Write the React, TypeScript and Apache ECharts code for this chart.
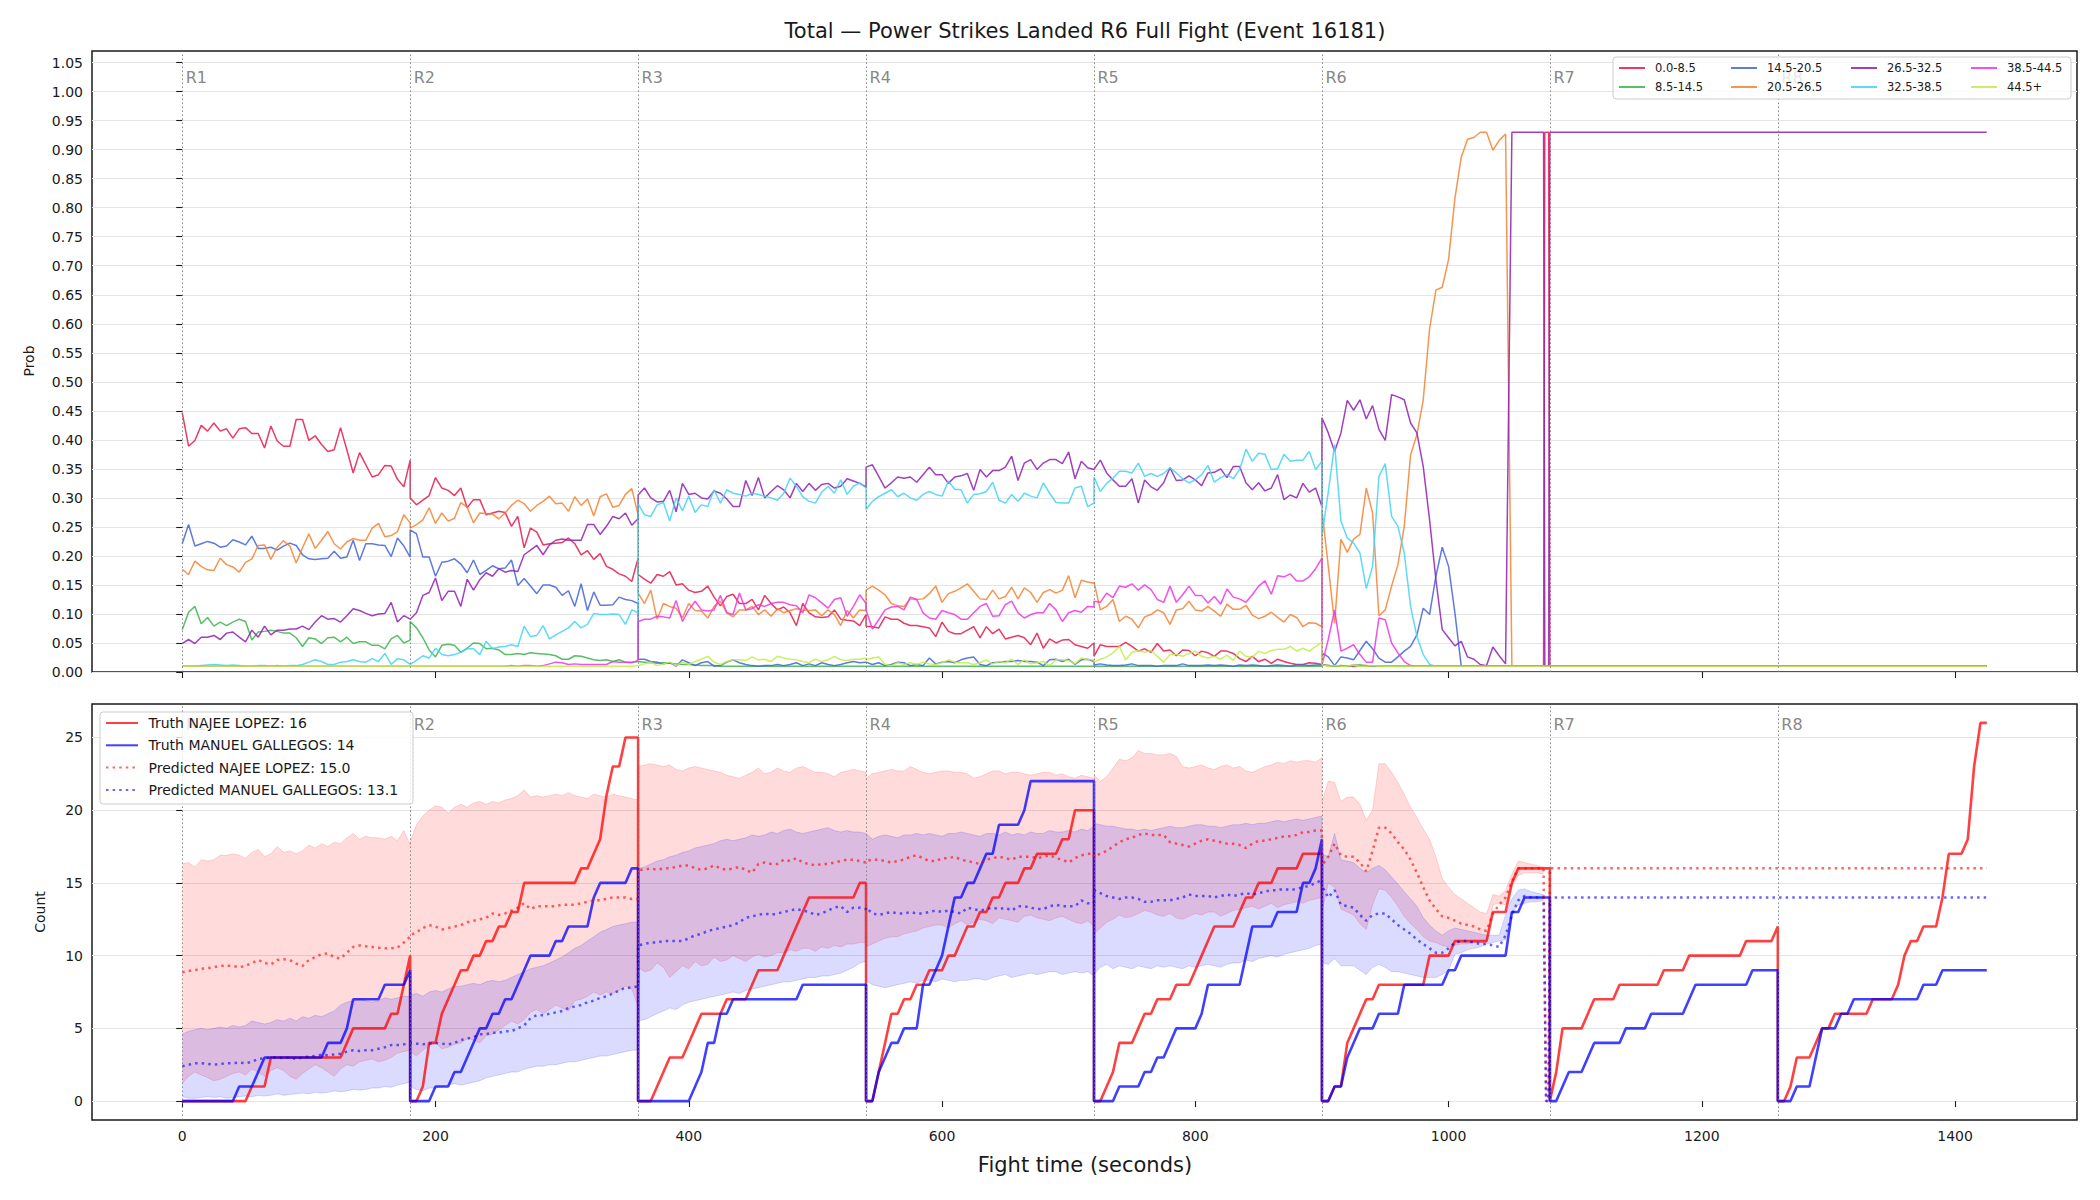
import React, { useEffect, useRef } from "react";
import * as echarts from "echarts";

// ---------- axes / rounds ----------
const roundStarts = [0, 180, 360, 540, 720, 900, 1080, 1260];
const roundLabels = ["R1", "R2", "R3", "R4", "R5", "R6", "R7", "R8"];
const timeTicks = [0, 200, 400, 600, 800, 1000, 1200, 1400];
const probTicks = [0, 0.05, 0.1, 0.15, 0.2, 0.25, 0.3, 0.35, 0.4, 0.45, 0.5, 0.55, 0.6, 0.65, 0.7, 0.75, 0.8, 0.85, 0.9, 0.95, 1.0, 1.05];
const countTicks = [0, 5, 10, 15, 20, 25];
const SAMPLE_STEP = 5;

// ---------- top panel: probability per bin ----------
const binNames = ["0.0-8.5", "8.5-14.5", "14.5-20.5", "20.5-26.5", "26.5-32.5", "32.5-38.5", "38.5-44.5", "44.5+"];
const binColors = ["#e6194b", "#3cb44b", "#4363d8", "#f58231", "#911eb4", "#42d4f4", "#f032e6", "#bfef45"];
const probRoundLengths = [37, 37, 37, 37, 37, 30];

const probBin0 = [
  0.447,0.389,0.399,0.425,0.415,0.429,0.415,0.419,0.403,0.419,0.421,0.411,0.411,0.386,0.424,0.398,0.389,0.389,0.435,0.435,0.399,0.407,0.392,0.380,0.383,0.421,0.383,0.343,0.378,0.357,0.336,0.340,0.356,0.355,0.332,0.319,0.365,
  0.300,0.288,0.296,0.304,0.335,0.317,0.313,0.304,0.317,0.283,0.297,0.297,0.271,0.274,0.277,0.275,0.251,0.268,0.214,0.248,0.241,0.219,0.221,0.222,0.223,0.231,0.221,0.202,0.209,0.194,0.204,0.182,0.177,0.169,0.165,0.156,0.196,
  0.168,0.160,0.153,0.168,0.165,0.173,0.150,0.152,0.141,0.137,0.139,0.148,0.129,0.114,0.130,0.134,0.118,0.118,0.125,0.107,0.132,0.118,0.107,0.112,0.102,0.080,0.118,0.102,0.095,0.094,0.095,0.107,0.091,0.089,0.088,0.080,0.099,
  0.079,0.078,0.076,0.095,0.091,0.091,0.084,0.080,0.080,0.078,0.076,0.061,0.086,0.070,0.066,0.066,0.072,0.078,0.059,0.078,0.066,0.074,0.057,0.060,0.063,0.059,0.047,0.067,0.041,0.057,0.050,0.055,0.056,0.047,0.044,0.041,0.050,
  0.027,0.047,0.044,0.044,0.044,0.051,0.044,0.036,0.040,0.034,0.049,0.036,0.038,0.028,0.038,0.037,0.028,0.036,0.033,0.027,0.036,0.036,0.032,0.023,0.018,0.027,0.018,0.022,0.015,0.022,0.018,0.015,0.013,0.013,0.016,0.015,0.013,
  0.012,0.011,0.010,0.011,0.010,0.010,0.011,0.010,0.010,0.010,0.010,0.010,0.010,0.010,0.010,0.010,0.010,0.010,0.010,0.010,0.010,0.010,0.010,0.010,0.010,0.010,0.010,0.010,0.010,0.010,
];
const probBin1 = [
  0.073,0.103,0.113,0.083,0.094,0.079,0.086,0.080,0.086,0.091,0.087,0.055,0.069,0.070,0.072,0.070,0.067,0.067,0.059,0.044,0.059,0.057,0.049,0.059,0.060,0.052,0.060,0.049,0.052,0.052,0.046,0.046,0.040,0.057,0.063,0.050,0.055,
  0.087,0.076,0.059,0.038,0.026,0.046,0.048,0.046,0.034,0.041,0.050,0.049,0.040,0.041,0.038,0.030,0.030,0.032,0.030,0.033,0.032,0.031,0.030,0.028,0.022,0.022,0.028,0.027,0.024,0.021,0.020,0.021,0.018,0.021,0.017,0.017,0.018,
  0.018,0.017,0.016,0.015,0.016,0.015,0.014,0.013,0.013,0.012,0.011,0.011,0.011,0.01,0.01,0.01,0.01,0.01,0.01,0.01,0.01,0.01,0.01,0.01,0.01,0.01,0.01,0.01,0.01,0.01,0.01,0.01,0.01,0.01,0.01,0.01,0.01,
  0.01,0.01,0.01,0.01,0.01,0.01,0.01,0.01,0.01,0.01,0.01,0.01,0.01,0.01,0.01,0.01,0.01,0.01,0.01,0.01,0.01,0.01,0.01,0.01,0.01,0.01,0.01,0.01,0.01,0.01,0.01,0.01,0.01,0.01,0.01,0.01,0.01,
  0.01,0.01,0.01,0.01,0.01,0.01,0.01,0.01,0.01,0.01,0.01,0.01,0.01,0.01,0.01,0.01,0.01,0.01,0.01,0.01,0.01,0.01,0.01,0.01,0.01,0.01,0.01,0.01,0.01,0.01,0.01,0.01,0.01,0.01,0.01,0.01,0.01,
  0.012,0.011,0.01,0.01,0.01,0.012,0.012,0.011,0.01,0.01,0.01,0.01,0.01,0.01,0.01,0.01,0.01,0.01,0.01,0.01,0.01,0.01,0.01,0.01,0.01,0.01,0.01,0.01,0.01,0.01,
];
const probBin2 = [
  0.221,0.254,0.217,0.221,0.225,0.222,0.215,0.217,0.228,0.224,0.219,0.234,0.213,0.213,0.215,0.210,0.217,0.222,0.218,0.202,0.195,0.194,0.195,0.196,0.208,0.196,0.198,0.227,0.192,0.221,0.221,0.219,0.218,0.199,0.231,0.217,0.198,
  0.245,0.238,0.198,0.198,0.165,0.189,0.191,0.195,0.186,0.171,0.193,0.168,0.175,0.183,0.178,0.179,0.193,0.149,0.161,0.148,0.135,0.150,0.150,0.146,0.132,0.140,0.113,0.152,0.106,0.138,0.115,0.115,0.116,0.129,0.125,0.123,0.118,
  0.022,0.022,0.018,0.017,0.014,0.016,0.010,0.021,0.016,0.011,0.016,0.018,0.010,0.011,0.017,0.021,0.016,0.013,0.011,0.010,0.011,0.011,0.013,0.011,0.013,0.016,0.011,0.014,0.011,0.016,0.013,0.011,0.013,0.016,0.018,0.016,0.017,
  0.017,0.013,0.016,0.011,0.013,0.017,0.016,0.011,0.013,0.011,0.024,0.014,0.017,0.018,0.016,0.021,0.024,0.026,0.013,0.011,0.016,0.017,0.018,0.018,0.020,0.018,0.018,0.017,0.011,0.021,0.022,0.018,0.022,0.013,0.021,0.022,0.018,
  0.012,0.014,0.012,0.011,0.011,0.012,0.014,0.011,0.011,0.011,0.010,0.011,0.011,0.011,0.014,0.011,0.011,0.011,0.012,0.011,0.012,0.011,0.010,0.012,0.011,0.012,0.011,0.010,0.011,0.012,0.011,0.010,0.012,0.012,0.011,0.012,0.012,
  0.033,0.026,0.011,0.026,0.024,0.021,0.037,0.053,0.040,0.024,0.017,0.017,0.026,0.036,0.044,0.064,0.110,0.099,0.165,0.215,0.182,0.102,0.010,0.010,0.010,0.010,0.010,0.010,0.010,0.010,
];
const probBin3 = [
  0.177,0.168,0.191,0.182,0.176,0.175,0.196,0.185,0.181,0.172,0.189,0.195,0.218,0.219,0.194,0.215,0.226,0.217,0.188,0.214,0.238,0.213,0.227,0.242,0.221,0.212,0.224,0.230,0.227,0.227,0.248,0.256,0.233,0.235,0.242,0.271,0.257,
  0.248,0.254,0.262,0.283,0.256,0.274,0.260,0.265,0.292,0.284,0.257,0.274,0.273,0.272,0.264,0.274,0.287,0.296,0.290,0.277,0.287,0.294,0.303,0.290,0.291,0.277,0.302,0.287,0.298,0.269,0.302,0.307,0.284,0.287,0.306,0.316,0.271,
  0.136,0.118,0.141,0.091,0.118,0.113,0.110,0.093,0.118,0.106,0.105,0.093,0.113,0.122,0.102,0.095,0.107,0.107,0.113,0.099,0.107,0.096,0.109,0.102,0.106,0.109,0.107,0.106,0.107,0.097,0.107,0.099,0.080,0.106,0.093,0.107,0.106,
  0.141,0.148,0.141,0.133,0.118,0.114,0.113,0.126,0.125,0.126,0.135,0.148,0.120,0.135,0.139,0.145,0.152,0.139,0.126,0.125,0.141,0.126,0.130,0.146,0.126,0.145,0.137,0.120,0.137,0.142,0.136,0.141,0.166,0.128,0.158,0.155,0.153,
  0.155,0.107,0.113,0.125,0.087,0.096,0.091,0.076,0.095,0.099,0.107,0.102,0.082,0.107,0.109,0.122,0.107,0.105,0.113,0.105,0.096,0.117,0.108,0.108,0.115,0.098,0.092,0.096,0.103,0.094,0.086,0.099,0.094,0.078,0.085,0.084,0.078,
  0.280,0.182,0.084,0.229,0.206,0.229,0.237,0.317,0.274,0.097,0.107,0.148,0.185,0.251,0.374,0.409,0.469,0.591,0.658,0.663,0.711,0.816,0.887,0.918,0.921,0.930,0.930,0.899,0.916,0.927,
];
const probBin4 = [
  0.049,0.056,0.049,0.060,0.060,0.063,0.056,0.067,0.069,0.060,0.052,0.072,0.060,0.079,0.064,0.072,0.072,0.074,0.074,0.079,0.073,0.086,0.097,0.091,0.092,0.086,0.097,0.109,0.106,0.101,0.097,0.100,0.101,0.120,0.086,0.097,0.091,
  0.091,0.102,0.132,0.137,0.162,0.123,0.139,0.139,0.113,0.160,0.141,0.159,0.171,0.165,0.178,0.172,0.175,0.173,0.202,0.210,0.218,0.202,0.219,0.227,0.229,0.227,0.227,0.227,0.254,0.254,0.237,0.251,0.268,0.264,0.274,0.253,0.264,
  0.305,0.317,0.300,0.293,0.294,0.313,0.276,0.325,0.306,0.308,0.300,0.298,0.312,0.308,0.298,0.285,0.285,0.330,0.304,0.335,0.300,0.311,0.321,0.314,0.300,0.325,0.311,0.325,0.313,0.323,0.325,0.317,0.320,0.333,0.329,0.325,0.319,
  0.353,0.357,0.337,0.317,0.326,0.336,0.334,0.336,0.327,0.340,0.353,0.340,0.340,0.325,0.336,0.338,0.342,0.313,0.349,0.336,0.347,0.347,0.353,0.372,0.330,0.360,0.366,0.349,0.360,0.366,0.366,0.359,0.379,0.333,0.363,0.352,0.349,
  0.349,0.365,0.343,0.331,0.320,0.320,0.333,0.291,0.331,0.319,0.313,0.326,0.352,0.330,0.331,0.338,0.331,0.321,0.343,0.344,0.350,0.335,0.354,0.354,0.326,0.314,0.326,0.312,0.317,0.340,0.297,0.305,0.300,0.325,0.310,0.317,0.285,
  0.438,0.412,0.380,0.412,0.468,0.451,0.469,0.436,0.459,0.418,0.399,0.478,0.474,0.469,0.429,0.412,0.354,0.262,0.159,0.073,0.059,0.045,0.053,0.026,0.022,0.013,0.011,0.043,0.028,0.014,
];
const probBin5 = [
  0.010,0.010,0.010,0.011,0.012,0.013,0.012,0.011,0.012,0.011,0.010,0.010,0.011,0.011,0.010,0.011,0.010,0.011,0.011,0.013,0.017,0.021,0.018,0.013,0.013,0.017,0.018,0.021,0.018,0.017,0.023,0.018,0.032,0.013,0.023,0.021,0.013,
  0.013,0.020,0.028,0.024,0.041,0.030,0.028,0.030,0.034,0.040,0.040,0.030,0.053,0.040,0.043,0.044,0.047,0.044,0.079,0.061,0.063,0.080,0.057,0.064,0.070,0.076,0.087,0.076,0.082,0.101,0.099,0.099,0.100,0.099,0.082,0.107,0.102,
  0.290,0.271,0.268,0.288,0.292,0.260,0.300,0.278,0.303,0.275,0.288,0.285,0.314,0.291,0.314,0.308,0.306,0.303,0.308,0.306,0.303,0.300,0.296,0.308,0.334,0.320,0.302,0.294,0.291,0.310,0.320,0.308,0.331,0.306,0.320,0.326,0.317,
  0.280,0.294,0.302,0.308,0.314,0.302,0.308,0.300,0.296,0.306,0.311,0.306,0.303,0.329,0.315,0.314,0.291,0.306,0.307,0.311,0.327,0.296,0.291,0.306,0.294,0.308,0.303,0.300,0.326,0.308,0.292,0.291,0.291,0.317,0.320,0.285,0.291,
  0.336,0.311,0.325,0.334,0.346,0.346,0.343,0.360,0.337,0.342,0.337,0.342,0.352,0.343,0.333,0.326,0.331,0.340,0.356,0.327,0.335,0.340,0.333,0.349,0.384,0.363,0.377,0.375,0.349,0.350,0.375,0.363,0.365,0.365,0.380,0.349,0.363,
  0.234,0.310,0.392,0.260,0.231,0.222,0.205,0.144,0.182,0.337,0.359,0.268,0.251,0.205,0.113,0.061,0.030,0.013,0.01,0.01,0.01,0.01,0.01,0.01,0.01,0.01,0.01,0.01,0.01,0.01,
];
const probBin6 = [
  0.01,0.01,0.01,0.01,0.01,0.01,0.01,0.01,0.01,0.01,0.01,0.01,0.01,0.01,0.01,0.01,0.01,0.01,0.01,0.01,0.01,0.01,0.01,0.01,0.01,0.01,0.01,0.01,0.01,0.01,0.01,0.01,0.01,0.01,0.01,0.01,0.01,
  0.01,0.01,0.01,0.01,0.01,0.01,0.01,0.01,0.01,0.01,0.01,0.01,0.01,0.01,0.010,0.010,0.011,0.010,0.011,0.011,0.010,0.011,0.014,0.017,0.016,0.013,0.014,0.013,0.013,0.013,0.013,0.013,0.018,0.017,0.017,0.016,0.020,
  0.087,0.091,0.091,0.096,0.095,0.093,0.123,0.087,0.107,0.122,0.107,0.105,0.107,0.132,0.102,0.099,0.136,0.107,0.109,0.116,0.113,0.118,0.120,0.120,0.116,0.114,0.102,0.133,0.128,0.119,0.110,0.125,0.128,0.096,0.113,0.133,0.118,
  0.107,0.074,0.090,0.107,0.112,0.113,0.107,0.129,0.125,0.102,0.093,0.091,0.106,0.102,0.099,0.091,0.091,0.102,0.113,0.118,0.096,0.097,0.116,0.122,0.102,0.093,0.099,0.102,0.102,0.118,0.107,0.087,0.102,0.106,0.103,0.113,0.112,
  0.122,0.120,0.136,0.128,0.148,0.146,0.152,0.141,0.150,0.142,0.125,0.120,0.148,0.120,0.133,0.148,0.132,0.132,0.119,0.130,0.117,0.143,0.129,0.126,0.120,0.133,0.148,0.157,0.134,0.166,0.164,0.169,0.157,0.157,0.164,0.178,0.196,
  0.012,0.056,0.107,0.036,0.041,0.047,0.030,0.017,0.017,0.093,0.090,0.050,0.033,0.018,0.011,0.01,0.01,0.01,0.01,0.01,0.01,0.01,0.01,0.01,0.01,0.01,0.01,0.01,0.01,0.01,
];
const probBin7 = [
  0.01,0.01,0.01,0.01,0.01,0.01,0.01,0.01,0.01,0.01,0.01,0.01,0.01,0.01,0.01,0.01,0.01,0.01,0.01,0.01,0.01,0.01,0.01,0.01,0.01,0.01,0.01,0.01,0.01,0.01,0.01,0.01,0.01,0.01,0.01,0.01,0.01,
  0.01,0.01,0.01,0.01,0.01,0.01,0.01,0.01,0.01,0.01,0.01,0.01,0.01,0.01,0.01,0.01,0.01,0.01,0.01,0.01,0.01,0.01,0.01,0.01,0.01,0.01,0.01,0.01,0.01,0.01,0.01,0.01,0.01,0.01,0.01,0.01,0.011,
  0.011,0.014,0.017,0.011,0.014,0.017,0.011,0.017,0.013,0.018,0.022,0.027,0.017,0.013,0.018,0.021,0.021,0.020,0.026,0.021,0.022,0.018,0.027,0.024,0.022,0.021,0.018,0.016,0.022,0.018,0.021,0.027,0.021,0.020,0.022,0.022,0.024,
  0.021,0.024,0.026,0.013,0.011,0.016,0.013,0.016,0.013,0.017,0.014,0.013,0.016,0.021,0.017,0.016,0.016,0.013,0.016,0.021,0.014,0.018,0.016,0.022,0.013,0.021,0.014,0.016,0.018,0.011,0.021,0.021,0.020,0.014,0.024,0.021,0.021,
  0.017,0.022,0.026,0.033,0.044,0.021,0.034,0.037,0.034,0.037,0.027,0.017,0.030,0.030,0.027,0.032,0.036,0.027,0.024,0.027,0.022,0.029,0.020,0.036,0.027,0.025,0.036,0.032,0.037,0.039,0.039,0.044,0.036,0.041,0.036,0.044,0.051,
  0.012,0.01,0.011,0.01,0.01,0.012,0.01,0.01,0.011,0.01,0.01,0.01,0.01,0.01,0.01,0.01,0.01,0.01,0.01,0.01,0.01,0.01,0.01,0.01,0.01,0.01,0.01,0.01,0.01,0.01,
];
const probBins = [probBin0, probBin1, probBin2, probBin3, probBin4, probBin5, probBin6, probBin7];

// after the fight ends the model output is frozen
const probTailTimes = [1050, 1075, 1076, 1079, 1080, 1425];
const probTailBin0 = [0.01, 0.01, 0.93, 0.93, 0.01, 0.01];
const probTailBin4 = [0.93, 0.93, 0.01, 0.01, 0.93, 0.93];
const probTailOther = [0.01, 0.01, 0.01, 0.01, 0.01, 0.01];

// ---------- bottom panel: counts ----------
const bottomNames = [
  "Truth NAJEE LOPEZ: 16",
  "Truth MANUEL GALLEGOS: 14",
  "Predicted NAJEE LOPEZ: 15.0",
  "Predicted MANUEL GALLEGOS: 13.1",
];
const truthRoundLengths = [37, 37, 37, 37, 37, 37, 37, 34];
const truthLopez = [
  0,0,0,0,0,0,0,0,0,0,0,1,1,1,3,3,3,3,3,3,3,3,3,3,3,3,4,5,5,5,5,5,5,6,6,8,10,
  0,0,1,4,4,6,7,8,9,9,10,10,11,11,12,12,13,13,15,15,15,15,15,15,15,15,15,16,16,17,18,21,23,23,25,25,25,
  0,0,0,1,2,3,3,3,4,5,6,6,6,6,7,7,7,7,8,9,9,9,9,10,11,12,13,14,14,14,14,14,14,14,14,15,15,
  0,0,2,4,6,6,7,7,8,8,9,9,9,10,10,11,12,12,13,13,14,14,15,15,15,16,16,17,17,17,17,18,18,20,20,20,20,
  0,0,1,2,4,4,4,5,6,6,7,7,7,8,8,8,9,10,11,12,12,12,12,13,14,14,15,15,15,16,16,16,16,17,17,17,17,
  0,0,1,1,4,5,6,7,7,8,8,8,8,8,8,8,8,10,10,10,10,11,11,11,11,11,11,13,13,13,15,16,16,16,16,16,16,
  0,2,5,5,5,5,6,7,7,7,7,8,8,8,8,8,8,8,9,9,9,9,10,10,10,10,10,10,10,10,10,11,11,11,11,11,12,
  0,0,1,3,3,3,4,5,5,6,6,6,6,6,6,7,7,7,7,8,10,11,11,12,12,12,14,17,17,17,18,23,26,26,
];
const truthGallegos = [
  0,0,0,0,0,0,0,0,0,1,1,1,2,3,3,3,3,3,3,3,3,3,3,4,4,4,5,7,7,7,7,7,8,8,8,8,9,
  0,0,0,0,1,1,1,2,2,3,4,5,5,6,6,7,7,8,9,10,10,10,10,11,11,12,12,12,12,14,15,15,15,15,15,16,16,
  0,0,0,0,0,0,0,0,0,1,2,4,4,6,6,7,7,7,7,7,7,7,7,7,7,7,8,8,8,8,8,8,8,8,8,8,8,
  0,0,2,3,4,4,5,5,5,8,8,9,10,12,14,14,15,15,16,17,17,19,19,19,19,20,22,22,22,22,22,22,22,22,22,22,22,
  0,0,0,0,1,1,1,1,2,2,3,3,4,5,5,5,5,6,8,8,8,8,8,8,10,12,12,12,12,13,13,13,13,15,15,16,18,
  0,0,1,1,3,4,5,5,5,6,6,6,6,8,8,8,8,8,8,8,9,9,10,10,10,10,10,10,10,10,13,13,14,14,14,14,14,
  0,0,1,2,2,2,3,4,4,4,4,4,5,5,5,5,6,6,6,6,6,6,7,8,8,8,8,8,8,8,8,8,9,9,9,9,9,
  0,0,0,1,1,1,3,5,5,5,6,6,7,7,7,7,7,7,7,7,7,7,7,8,8,8,9,9,9,9,9,9,9,9,
];

const predRoundLengths = [37, 37, 37, 37, 37, 36];
const predLopez = [
  8.85,8.95,9.0,9.1,9.15,9.2,9.3,9.3,9.3,9.2,9.3,9.5,9.7,9.5,9.4,9.7,9.75,9.7,9.45,9.3,9.7,9.9,10.1,10.15,9.9,9.8,10.2,10.6,10.7,10.65,10.6,10.55,10.5,10.5,10.55,10.9,11.3,
  11.4,11.6,11.9,12.1,12.0,11.8,11.9,12.0,12.1,12.3,12.4,12.5,12.6,12.9,12.8,12.9,13.1,13.3,13.6,13.2,13.4,13.4,13.4,13.4,13.5,13.5,13.5,13.6,13.7,13.8,13.8,13.9,14.0,14.0,14.0,13.9,13.9,
  15.9,15.9,16.0,15.9,16.0,16.0,16.1,16.2,16.2,16.0,15.9,16.0,16.2,16.0,15.9,16.0,16.1,15.9,15.7,16.3,16.4,16.3,16.3,16.6,16.5,16.7,16.4,16.3,16.2,16.3,16.3,16.4,16.5,16.6,16.6,16.5,16.4,
  16.5,16.6,16.6,16.5,16.4,16.5,16.6,16.8,16.9,16.7,16.5,16.5,16.7,16.7,16.8,16.6,16.5,16.4,16.3,16.6,16.7,16.8,16.7,16.6,16.8,16.8,16.8,16.7,16.8,16.9,16.7,16.6,16.4,16.7,16.9,17.0,17.0,
  16.8,17.0,17.2,17.5,17.8,18.0,18.1,18.3,18.4,18.3,18.3,18.3,17.8,17.7,17.6,17.5,17.7,17.9,18.0,17.9,17.8,17.7,17.7,17.6,17.4,17.7,17.9,17.9,18.0,18.1,18.2,18.2,18.3,18.5,18.5,18.6,18.6,
  16.2,16.8,17.7,16.9,16.8,16.8,16.4,15.8,17.2,18.8,18.8,18.4,17.8,17.3,16.6,15.7,14.7,13.8,13.2,12.7,12.6,12.4,12.2,12.1,12.0,11.8,11.7,12.9,13.5,14.0,15.1,16.0,16.0,16.0,16.0,16.0,
];
const predGallegos = [
  2.4,2.5,2.6,2.6,2.55,2.5,2.55,2.6,2.6,2.65,2.6,2.7,2.9,2.95,3.0,3.0,2.95,3.0,2.9,3.0,3.05,3.1,3.2,3.15,3.2,3.25,3.4,3.5,3.45,3.5,3.5,3.6,3.7,3.85,3.85,3.9,4.0,
  4.0,3.95,3.9,3.95,4.0,3.95,3.9,4.0,4.2,4.3,4.4,4.6,4.6,4.7,4.7,4.8,4.8,5.0,5.2,5.7,5.9,5.9,6.0,6.1,6.2,6.4,6.5,6.6,6.8,6.9,7.1,7.2,7.4,7.6,7.8,7.8,7.9,
  10.7,10.8,10.9,10.9,11.0,11.0,11.0,11.0,11.2,11.4,11.5,11.7,11.8,11.9,12.0,12.1,12.3,12.6,12.7,12.8,12.9,12.8,12.9,13.0,13.1,13.2,13.1,13.0,12.8,12.9,13.1,13.3,13.4,13.0,13.3,13.3,13.2,
  13.3,12.9,12.8,12.9,13.0,12.9,12.9,13.0,12.9,12.9,13.0,13.1,13.0,13.1,13.0,12.9,13.3,13.2,13.1,13.2,13.3,13.2,13.3,13.1,13.4,13.4,13.3,13.2,13.2,13.4,13.5,13.4,13.4,13.4,13.8,13.6,13.6,
  14.5,14.3,14.1,14.0,13.9,14.0,14.0,13.9,13.7,13.7,13.8,13.8,13.8,13.9,14.0,14.2,14.1,14.1,14.1,14.0,14.1,14.2,14.1,14.2,14.3,14.2,14.3,14.4,14.5,14.5,14.6,14.5,14.6,14.7,14.8,15.0,15.2,
  14.8,14.0,14.5,13.5,13.4,13.3,12.8,12.4,12.8,12.9,12.9,12.5,12.1,11.8,11.5,11.1,10.8,10.5,10.2,10.2,10.5,10.9,11.0,11.0,10.9,10.8,10.8,10.7,10.6,11.4,12.8,13.8,14.1,14.0,14.0,14.0,
];
const predTailTimes = [1077, 1079, 1080, 1425];
const predLopezTail = [0, 0, 16.0, 16.0];
const predGallegosTail = [0, 0, 14.0, 14.0];

const lopezBandUpper = [
  16.3,16.4,16.1,16.6,16.5,16.6,16.9,16.9,17.0,16.9,16.7,17.1,17.3,16.8,17.0,17.5,17.1,17.2,17.0,17.2,17.6,17.4,17.7,17.5,17.8,17.7,18.1,18.4,18.0,18.2,18.1,18.1,18.0,18.2,17.9,18.6,17.6,
  17.8,19.0,19.6,20.0,20.3,20.2,19.8,20.2,20.4,20.2,20.5,20.6,20.4,20.6,20.5,20.7,20.8,21.0,21.4,20.9,21.0,20.9,21.0,21.1,21.0,21.2,21.0,20.9,20.8,21.1,21.0,20.9,21.1,21.0,20.9,20.8,20.7,
  23.0,23.1,23.2,23.1,23.0,23.1,22.8,22.7,22.9,23.0,22.9,22.8,22.7,22.6,22.4,22.3,22.2,22.4,22.6,22.9,22.5,22.6,22.9,22.7,22.6,22.9,23.0,22.8,22.6,22.6,22.5,22.3,22.6,22.7,22.8,22.7,22.6,
  22.2,22.5,22.6,22.7,22.8,22.7,22.7,23.0,22.8,22.6,22.5,22.6,22.7,22.7,22.6,22.6,22.5,22.2,22.3,22.5,22.7,22.7,22.5,22.6,22.6,22.5,22.4,22.5,22.6,22.6,22.4,22.5,22.3,22.2,22.4,22.3,22.2,
  22.4,22.0,22.3,22.9,23.5,23.4,23.6,24.1,23.9,23.9,23.8,23.8,23.9,23.7,23.0,22.9,23.0,23.1,22.9,22.8,23.0,23.1,22.9,23.0,22.7,22.6,22.8,23.0,23.1,23.3,23.2,23.4,23.3,23.4,23.4,23.3,23.6,
  20.5,22.0,21.9,20.6,20.9,20.9,20.4,19.3,20.0,23.2,23.2,22.6,21.9,21.1,20.2,19.5,18.7,18.0,16.8,15.3,14.7,14.2,13.9,13.6,13.3,13.0,12.9,14.2,14.1,14.5,15.6,16.5,16.4,16.3,16.2,16.1,
];
const lopezBandLower = [
  1.2,1.7,2.0,1.8,1.6,1.4,1.5,1.7,1.9,2.0,1.8,2.2,2.0,1.7,2.1,2.3,2.1,1.7,1.5,1.9,2.2,2.5,2.3,2.0,1.7,2.2,2.5,2.4,2.7,2.8,2.9,2.7,2.8,3.0,3.3,3.4,3.5,
  3.4,3.1,3.5,3.8,4.0,3.6,3.7,3.9,4.0,4.3,4.2,4.0,4.5,4.6,4.9,5.2,5.5,5.3,5.6,6.1,6.3,6.0,6.3,6.6,6.4,6.2,6.9,7.0,7.2,7.5,7.3,7.5,7.4,7.6,7.9,7.7,6.5,
  9.2,8.9,9.0,9.5,9.2,8.5,8.9,9.3,9.1,9.6,9.3,9.4,9.9,9.6,9.7,10.0,9.8,9.6,9.9,10.1,9.9,10.0,10.2,10.2,10.4,10.3,10.5,10.5,10.3,10.6,10.5,10.7,10.6,10.8,10.8,10.9,10.9,
  10.6,10.8,11.0,11.2,11.3,11.3,11.5,11.6,11.7,11.9,12.0,12.1,12.1,11.9,12.2,12.4,12.1,12.3,12.5,12.4,12.2,12.6,12.5,12.4,12.3,12.7,12.8,12.6,12.5,12.4,12.6,12.7,12.5,12.3,12.2,12.4,12.0,
  11.5,11.9,12.3,12.5,12.8,12.6,12.7,12.9,13.1,13.0,12.8,12.7,12.9,12.6,12.5,12.7,12.9,12.8,13.0,13.0,12.7,12.9,13.1,13.2,13.3,13.4,13.2,13.4,13.6,13.3,13.5,13.6,13.7,13.6,13.8,13.9,14.0,
  13.0,15.0,14.7,13.2,13.0,12.8,12.2,11.8,13.5,14.6,14.5,14.0,13.4,12.7,12.2,11.8,11.3,11.0,10.9,10.7,10.6,10.7,10.8,10.8,10.9,10.9,10.9,13.5,13.6,13.5,14.8,15.5,15.7,15.7,15.7,15.6,
];
const gallegosBandUpper = [
  4.6,4.8,4.9,5.0,4.9,5.0,5.1,5.0,5.2,5.1,5.2,5.5,5.4,5.3,5.4,5.6,5.5,5.7,5.5,5.8,5.7,5.9,5.8,6.0,6.2,6.6,6.8,6.9,7.0,6.9,6.8,6.9,7.1,7.0,7.1,7.2,7.2,
  7.3,7.4,7.2,7.5,7.6,7.5,7.7,7.9,7.9,8.0,8.1,8.0,8.2,8.3,8.2,8.3,8.5,8.7,8.9,9.1,9.2,9.3,9.5,9.7,9.9,10.2,10.5,10.7,11.0,11.3,11.6,11.8,12.0,12.1,12.2,12.3,12.3,
  16.0,16.1,16.3,16.5,16.6,16.8,16.9,17.1,17.2,17.4,17.5,17.6,17.7,17.9,18.0,17.9,18.0,18.1,18.3,18.2,18.3,18.5,18.4,18.6,18.7,18.5,18.4,18.5,18.6,18.7,18.8,18.6,18.5,18.6,18.5,18.5,18.4,
  18.4,18.0,18.2,18.3,18.2,18.1,18.3,18.3,18.4,18.3,18.4,18.3,18.2,18.4,18.4,18.5,18.4,18.3,18.2,18.4,18.4,18.3,18.5,18.3,18.4,18.3,18.5,18.4,18.4,18.6,18.5,18.5,18.6,18.5,18.7,18.6,18.9,
  19.1,19.0,18.9,18.9,18.8,18.7,18.7,18.6,18.7,18.6,18.7,18.8,18.9,18.8,18.8,18.9,19.0,19.0,18.9,18.9,18.8,18.9,19.0,19.0,19.1,19.0,19.1,19.1,19.2,19.3,19.2,19.3,19.4,19.3,19.4,19.5,19.6,
  17.0,16.8,18.4,16.6,16.5,16.4,16.0,15.7,16.0,16.2,15.9,15.4,14.9,14.4,13.9,13.4,12.6,12.1,11.7,11.4,11.7,11.9,11.8,11.7,11.6,11.5,11.4,11.4,11.4,12.8,13.9,14.5,14.6,14.4,14.3,14.2,
];
const gallegosBandLower = [
  0.3,0.2,0.2,0.25,0.3,0.25,0.3,0.2,0.25,0.3,0.35,0.3,0.4,0.35,0.4,0.5,0.4,0.45,0.5,0.55,0.5,0.6,0.55,0.6,0.7,0.65,0.7,0.8,0.75,0.8,0.9,0.9,1.0,0.95,1.1,1.2,1.3,
  1.0,0.8,0.7,0.9,0.9,1.0,1.1,1.2,1.1,1.2,1.3,1.4,1.6,1.7,1.8,1.9,2.0,2.0,2.2,2.3,2.4,2.4,2.5,2.5,2.6,2.7,2.7,2.8,2.9,3.0,3.1,3.1,3.2,3.3,3.4,3.5,3.5,
  5.5,5.6,5.8,6.0,6.2,6.4,6.3,6.6,6.8,6.9,7.0,7.1,7.2,7.3,7.4,7.5,7.4,7.6,7.7,7.8,7.9,8.0,8.1,8.2,8.2,8.3,8.4,8.5,8.5,8.6,8.6,8.7,8.8,9.0,9.2,9.5,9.6,
  8.3,8.0,7.9,7.8,7.9,8.0,8.1,8.2,8.1,8.3,8.3,8.2,8.4,8.3,8.2,8.3,8.3,8.4,8.4,8.3,8.5,8.6,8.7,8.5,8.6,8.7,8.8,8.7,8.8,8.9,8.9,8.7,8.8,8.9,8.8,8.9,8.6,
  8.7,9.2,9.4,9.1,9.3,9.2,9.1,9.3,9.2,9.1,9.3,9.2,9.3,9.2,9.1,9.3,9.2,9.3,9.4,9.3,9.2,9.4,9.5,9.5,9.7,9.6,9.8,9.9,10.0,9.9,10.1,10.2,10.3,10.4,10.5,10.7,10.8,
  9.5,9.4,9.8,9.3,9.3,9.3,9.0,8.7,9.2,9.4,9.2,8.9,8.9,8.8,8.7,8.6,8.5,8.5,8.5,8.7,9.0,10.1,10.2,10.4,10.5,10.6,10.8,10.9,11.0,11.1,12.9,13.5,13.6,13.7,13.7,13.8,
];

// ---------- helpers ----------
type Pt = [number, number];
function roundSeries(values: number[], lengths: number[]): Pt[] {
  const out: Pt[] = [];
  let k = 0;
  lengths.forEach((len, r) => {
    for (let i = 0; i < len && k < values.length; i++, k++) {
      out.push([roundStarts[r] + i * SAMPLE_STEP, values[k]]);
    }
  });
  return out;
}
function withTail(pts: Pt[], times: number[], vals: number[]): Pt[] {
  return pts.concat(times.map((t, i) => [t, vals[i]] as Pt));
}

const FONT = "DejaVu Sans";
const TXT = "#1a1a1a";

function bandSeries(lowVals: number[], upVals: number[], rgb: string): any {
  const low = roundSeries(lowVals, predRoundLengths);
  const up = roundSeries(upVals, predRoundLengths);
  return {
    type: "custom",
    xAxisIndex: 1,
    yAxisIndex: 1,
    silent: true,
    clip: true,
    z: 2,
    data: [low[0]],
    encode: { x: 0, y: 1 },
    renderItem: (_params: any, api: any) => {
      const upPx = up.map((p) => api.coord(p));
      const lowPx = low.map((p) => api.coord(p));
      const poly = upPx.concat(lowPx.slice().reverse());
      return {
        type: "group",
        children: [
          { type: "polygon", shape: { points: poly }, style: { fill: `rgba(${rgb},0.14)`, stroke: "none" } },
          { type: "polyline", shape: { points: upPx }, style: { fill: "none", stroke: `rgba(${rgb},0.15)`, lineWidth: 1 } },
          { type: "polyline", shape: { points: lowPx }, style: { fill: "none", stroke: `rgba(${rgb},0.15)`, lineWidth: 1 } },
        ],
      };
    },
  };
}

function buildOption(): any {
  const topTop = 51, topH = 621, botTop = 704, botH = 416, gLeft = 92, gW = 1985;
  const xMin = -71.25, xMax = 1496.25;
  const roundLine = {
    silent: true,
    symbol: ["none", "none"],
    label: { show: false },
    lineStyle: { color: "#777", width: 1, type: [1.5, 2.5], opacity: 0.85 },
    data: roundStarts.map((x) => ({ xAxis: x })),
  };
  const tickLine = { color: TXT, width: 1.1 };
  const labelStyle = { fontSize: 14, color: TXT, fontFamily: FONT, margin: 9 };
  const roundLabel = {
    show: true,
    position: "right",
    distance: 3,
    formatter: (p: any) => roundLabels[p.dataIndex],
    color: "#666",
    fontSize: 16,
    fontFamily: FONT,
  };

  const series: any[] = [];
  probBins.forEach((vals, b) => {
    const tail = b === 0 ? probTailBin0 : b === 4 ? probTailBin4 : probTailOther;
    series.push({
      name: binNames[b],
      type: "line",
      xAxisIndex: 0,
      yAxisIndex: 0,
      symbol: "none",
      silent: true,
      data: withTail(roundSeries(vals, probRoundLengths), probTailTimes, tail),
      lineStyle: { color: binColors[b], width: 1.5, opacity: 0.85 },
      itemStyle: { color: binColors[b] },
      z: 3,
    });
  });
  series.push({
    name: "roundsTop",
    type: "scatter",
    xAxisIndex: 0,
    yAxisIndex: 0,
    symbolSize: 1,
    silent: true,
    itemStyle: { color: "rgba(0,0,0,0)" },
    data: roundStarts.map((x) => [x, 1.024]),
    label: roundLabel,
    markLine: roundLine,
    z: 2,
  });

  series.push(bandSeries(lopezBandLower, lopezBandUpper, "255,0,0"));
  series.push(bandSeries(gallegosBandLower, gallegosBandUpper, "0,0,255"));

  series.push({
    name: bottomNames[0],
    type: "line",
    xAxisIndex: 1,
    yAxisIndex: 1,
    symbol: "none",
    silent: true,
    data: roundSeries(truthLopez, truthRoundLengths),
    lineStyle: { color: "#ff0000", width: 2.6, opacity: 0.75 },
    itemStyle: { color: "#ff0000" },
    z: 3,
  });
  series.push({
    name: bottomNames[1],
    type: "line",
    xAxisIndex: 1,
    yAxisIndex: 1,
    symbol: "none",
    silent: true,
    data: roundSeries(truthGallegos, truthRoundLengths),
    lineStyle: { color: "#0000ff", width: 2.6, opacity: 0.75 },
    itemStyle: { color: "#0000ff" },
    z: 3,
  });
  series.push({
    name: bottomNames[2],
    type: "line",
    xAxisIndex: 1,
    yAxisIndex: 1,
    symbol: "none",
    silent: true,
    data: withTail(roundSeries(predLopez, predRoundLengths), predTailTimes, predLopezTail),
    lineStyle: { color: "#ff0000", width: 2.5, opacity: 0.6, type: [2.5, 4.1] },
    itemStyle: { color: "#ff0000" },
    z: 3,
  });
  series.push({
    name: bottomNames[3],
    type: "line",
    xAxisIndex: 1,
    yAxisIndex: 1,
    symbol: "none",
    silent: true,
    data: withTail(roundSeries(predGallegos, predRoundLengths), predTailTimes, predGallegosTail),
    lineStyle: { color: "#0000ff", width: 2.5, opacity: 0.6, type: [2.5, 4.1] },
    itemStyle: { color: "#0000ff" },
    z: 3,
  });
  series.push({
    name: "roundsBottom",
    type: "scatter",
    xAxisIndex: 1,
    yAxisIndex: 1,
    symbolSize: 1,
    silent: true,
    itemStyle: { color: "rgba(0,0,0,0)" },
    data: roundStarts.map((x) => [x, 25.9]),
    label: roundLabel,
    markLine: roundLine,
    z: 2,
  });

  const legendCols = [1618, 1730, 1850, 1970];
  const legends: any[] = legendCols.map((left, c) => ({
    data: [binNames[c * 2], binNames[c * 2 + 1]],
    orient: "vertical",
    left,
    top: 62,
    padding: 0,
    itemWidth: 26,
    itemHeight: 12,
    itemGap: 7,
    selectedMode: false,
    z: 20,
    itemStyle: { opacity: 0 },
    textStyle: { fontSize: 11.5, color: TXT, fontFamily: FONT, padding: [0, 0, 0, 5] },
  }));
  legends.push({
    data: bottomNames,
    orient: "vertical",
    left: 105,
    top: 716,
    padding: 0,
    itemWidth: 32,
    itemHeight: 14,
    itemGap: 8.3,
    selectedMode: false,
    z: 20,
    itemStyle: { opacity: 0 },
    textStyle: { fontSize: 14, color: TXT, fontFamily: FONT, padding: [0, 0, 0, 5.5] },
  });

  return {
    animation: false,
    backgroundColor: "#ffffff",
    textStyle: { fontFamily: FONT },
    grid: [
      { left: gLeft, top: topTop, width: gW, height: topH, show: true, borderColor: TXT, borderWidth: 1.5, backgroundColor: "transparent" },
      { left: gLeft, top: botTop, width: gW, height: botH, show: true, borderColor: TXT, borderWidth: 1.5, backgroundColor: "transparent" },
    ],
    xAxis: [
      {
        type: "value", gridIndex: 0, min: xMin, max: xMax, splitNumber: 8,
        axisLine: { show: false },
        axisTick: { show: true, length: 6, lineStyle: tickLine, customValues: timeTicks },
        axisLabel: { show: false },
        splitLine: { show: false },
      },
      {
        type: "value", gridIndex: 1, min: xMin, max: xMax, splitNumber: 8,
        axisLine: { show: false },
        axisTick: { show: true, length: 6, lineStyle: tickLine, customValues: timeTicks },
        axisLabel: { ...labelStyle, customValues: timeTicks, formatter: (v: number) => String(v) },
        splitLine: { show: false },
      },
    ],
    yAxis: [
      {
        type: "value", gridIndex: 0, min: 0, max: 1.07, splitNumber: 21,
        axisLine: { show: false },
        axisTick: { show: true, length: 6, lineStyle: tickLine, customValues: probTicks },
        axisLabel: { ...labelStyle, customValues: probTicks, formatter: (v: number) => v.toFixed(2) },
        splitLine: { show: true, lineStyle: { color: "#e4e4e4", width: 1 } },
      },
      {
        type: "value", gridIndex: 1, min: -1.3, max: 27.3, splitNumber: 6,
        axisLine: { show: false },
        axisTick: { show: true, length: 6, lineStyle: tickLine, customValues: countTicks },
        axisLabel: { ...labelStyle, customValues: countTicks, formatter: (v: number) => String(v) },
        splitLine: { show: true, lineStyle: { color: "#e4e4e4", width: 1 } },
      },
    ],
    legend: legends,
    graphic: [
      { type: "rect", z: 15, silent: true, shape: { x: 1613, y: 57, width: 458, height: 42, r: 3 }, style: { fill: "rgba(255,255,255,0.8)", stroke: "#cccccc", lineWidth: 1 } },
      { type: "rect", z: 15, silent: true, shape: { x: 100, y: 712, width: 313, height: 92, r: 3 }, style: { fill: "rgba(255,255,255,0.8)", stroke: "#cccccc", lineWidth: 1 } },
      { type: "text", z: 20, silent: true, x: 1085, y: 31, style: { text: "Total \u2014 Power Strikes Landed R6 Full Fight (Event 16181)", fontSize: 21, fontFamily: FONT, fill: TXT, textAlign: "center", textVerticalAlign: "middle" } },
      { type: "text", z: 20, silent: true, x: 1085, y: 1165, style: { text: "Fight time (seconds)", fontSize: 21, fontFamily: FONT, fill: TXT, textAlign: "center", textVerticalAlign: "middle" } },
      { type: "text", z: 20, silent: true, x: 29, y: 361, rotation: Math.PI / 2, style: { text: "Prob", fontSize: 14, fontFamily: FONT, fill: TXT, textAlign: "center", textVerticalAlign: "middle" } },
      { type: "text", z: 20, silent: true, x: 40, y: 912, rotation: Math.PI / 2, style: { text: "Count", fontSize: 14, fontFamily: FONT, fill: TXT, textAlign: "center", textVerticalAlign: "middle" } },
    ],
    series,
  };
}

export default function App() {
  const ref = useRef<HTMLDivElement>(null);
  useEffect(() => {
    document.body.style.margin = "0";
    const chart = echarts.init(ref.current as HTMLDivElement, null, { renderer: "svg" });
    chart.setOption(buildOption());
    return () => chart.dispose();
  }, []);
  return <div ref={ref} style={{ width: 2100, height: 1200 }} />;
}
